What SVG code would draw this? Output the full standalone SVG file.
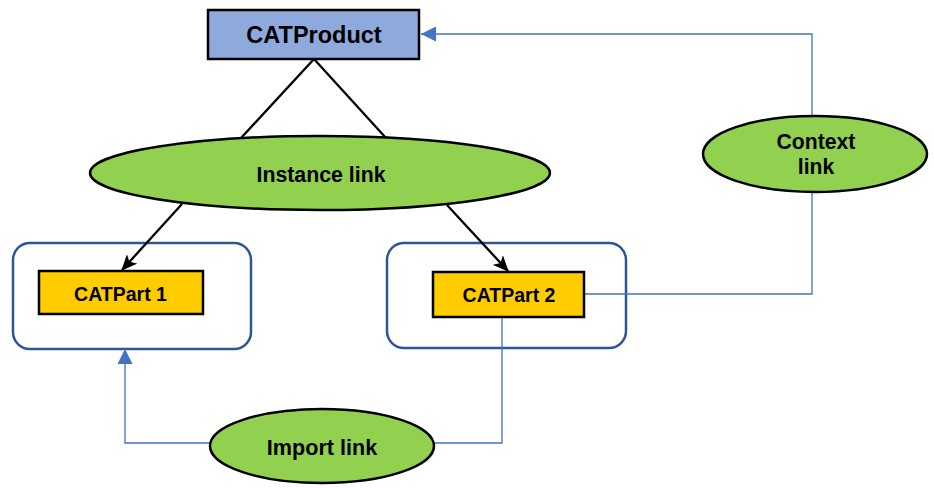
<svg xmlns="http://www.w3.org/2000/svg" width="934" height="488" viewBox="0 0 934 488">
<style>
text{font-family:"Liberation Sans",Arial,sans-serif;font-weight:bold;fill:#000;text-anchor:middle}
.cont{fill:#fff;stroke:#2F5597;stroke-width:2.5}
.part{fill:#FFCC00;stroke:#000;stroke-width:2.5}
.ell{fill:#92D050;stroke:#000;stroke-width:2.5}
.blk{fill:none;stroke:#000;stroke-width:2.3}
.blu{fill:none;stroke:#4472C4;stroke-width:1.3}
</style>
<defs>
<marker id="ab" markerUnits="userSpaceOnUse" markerWidth="16" markerHeight="14" refX="15" refY="7" orient="auto" viewBox="0 0 16 14">
<path d="M0,0 L16,7 L0,14 L4,7 z" fill="#000"/>
</marker>
<marker id="au" markerUnits="userSpaceOnUse" markerWidth="15" markerHeight="15" refX="15" refY="7.5" orient="auto" viewBox="0 0 15 15">
<path d="M0,0 L15,7.5 L0,15 z" fill="#4472C4"/>
</marker>
</defs>
<rect width="934" height="488" fill="#fff"/>
<g id="container1"><rect class="cont" x="13" y="243" width="238" height="106" rx="17"/></g>
<g id="container2"><rect class="cont" x="387" y="243" width="239" height="105" rx="17"/></g>
<g id="connectors">
<line class="blk" x1="314" y1="59" x2="241" y2="138"/>
<line class="blk" x1="314" y1="59" x2="386" y2="138"/>
<line class="blk" x1="182" y1="204" x2="122" y2="270" marker-end="url(#ab)"/>
<line class="blk" x1="447" y1="205" x2="508" y2="271" marker-end="url(#ab)"/>
<path class="blu" d="M584,294 H812 V34 H421" marker-end="url(#au)"/>
<path class="blu" d="M502,317 V443 H125 V349" marker-end="url(#au)"/>
</g>
<g id="catproduct"><rect x="208" y="10" width="211" height="49" fill="#8EA9DB" stroke="#000" stroke-width="2.5"/><text x="314" y="43" font-size="23.5">CATProduct</text></g>
<g id="instance-link"><ellipse class="ell" cx="320" cy="173" rx="230" ry="37"/><text x="321" y="182" font-size="21.3">Instance link</text></g>
<g id="context-link"><ellipse class="ell" cx="815" cy="154" rx="112" ry="38"/><text x="816" y="149" font-size="21.2">Context</text><text x="816" y="174" font-size="21.2">link</text></g>
<g id="import-link"><ellipse class="ell" cx="322" cy="446" rx="112" ry="37"/><text x="322" y="455" font-size="21.6">Import link</text></g>
<g id="catpart1"><rect class="part" x="39" y="271" width="164" height="43"/><text x="120.5" y="301" font-size="19.5">CATPart 1</text></g>
<g id="catpart2"><rect class="part" x="433" y="272" width="151" height="45"/><text x="509" y="302" font-size="19.5">CATPart 2</text></g>
</svg>
